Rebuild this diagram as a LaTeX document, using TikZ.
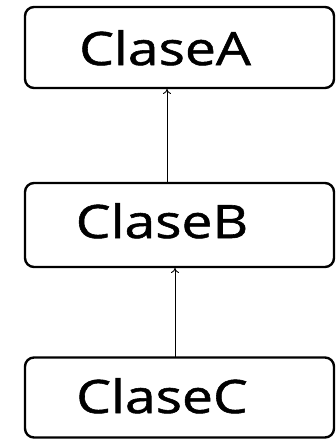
\documentclass[tikz,border=0pt]{standalone}
\usepackage{fontspec}
\setmainfont{Open Sans}
\newfontfamily\boxfont[FakeStretch=1.2,FakeBold=1.2]{Open Sans}
\usetikzlibrary{arrows.meta}
\begin{document}
\begin{tikzpicture}[x=1pt,y=-1pt,
  box/.style={draw, line width=2.4pt, rounded corners=9pt, inner sep=0pt},
  lbl/.style={font=\boxfont\fontsize{46}{50}\selectfont, inner sep=0pt, anchor=base},
  inh/.style={draw, line width=0.9pt, -{To[length=5pt,width=8pt]}}]
\useasboundingbox (0,0) rectangle (336,440);
\node[box, minimum width=309pt, minimum height=81pt] (A) at (179.5,47.5) {};
\node[box, minimum width=309pt, minimum height=84pt] (B) at (179.5,225) {};
\node[box, minimum width=309pt, minimum height=80pt] (C) at (179.5,397.5) {};
\node[lbl] (tA) at (165,65) {ClaseA};
\node[lbl] (tB) at (162,238) {ClaseB};
\node[lbl] (tC) at (162,413) {ClaseC};
\coordinate (a1) at (167,183);
\coordinate (a2) at (167,89);
\coordinate (b1) at (175,358);
\coordinate (b2) at (175,268);
\draw[inh] (a1) -- (a2);
\draw[inh] (b1) -- (b2);
\end{tikzpicture}
\end{document}
